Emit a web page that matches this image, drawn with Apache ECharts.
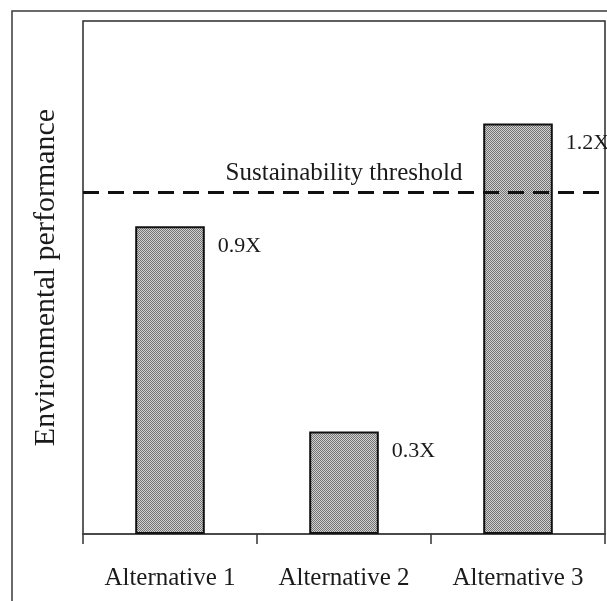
<!DOCTYPE html>
<html>
<head>
<meta charset="utf-8">
<script src="https://cdn.jsdelivr.net/npm/echarts@6/dist/echarts.min.js"></script>
<style>
  html, body { margin: 0; padding: 0; background: #ffffff; }
  #chart { width: 607px; height: 601px; }
</style>
</head>
<body>
<div id="chart"></div>
<script>
// Environmental performance of three alternatives, relative to the threshold X
const categories = ['Alternative 1', 'Alternative 2', 'Alternative 3'];
const performance = [0.9, 0.3, 1.2];
const valueLabels = ['0.9X', '0.3X', '1.2X'];
const thresholdValue = 1.0;
const thresholdName = 'Sustainability threshold';
const axisName = 'Environmental performance';

const serif = 'Liberation Serif';
const ink = '#1a1a1a';

// fine stippled fill for the bars: a small checkered tile repeated
function stippleTile() {
  const c = document.createElement('canvas');
  c.width = 2;
  c.height = 2;
  const g = c.getContext('2d');
  g.fillStyle = '#d2d2d2';
  g.fillRect(0, 0, 2, 2);
  g.fillStyle = '#737373';
  g.fillRect(0, 0, 1, 1);
  g.fillRect(1, 1, 1, 1);
  return c;
}

const chart = echarts.init(document.getElementById('chart'), null, { renderer: 'canvas' });

chart.setOption({
  backgroundColor: '#ffffff',
  animation: false,
  graphic: [
    {
      // outer frame around the figure, running off the right and bottom edges
      type: 'rect',
      silent: true,
      shape: { x: 12, y: 11, width: 700, height: 700 },
      style: { fill: 'none', stroke: '#3a3a3a', lineWidth: 1.5 }
    }
  ],
  grid: {
    left: 83,
    right: 2,
    top: 21,
    bottom: 67,
    show: true,
    borderColor: '#2a2a2a',
    borderWidth: 1.5,
    backgroundColor: 'transparent'
  },
  xAxis: {
    type: 'category',
    data: categories,
    boundaryGap: true,
    axisLine: { show: true, lineStyle: { color: '#444', width: 1.5 } },
    axisTick: { show: true, alignWithLabel: false, length: 10, lineStyle: { color: '#333', width: 1.5 } },
    axisLabel: { color: ink, fontFamily: serif, fontSize: 25, margin: 32 },
    splitLine: { show: false }
  },
  yAxis: {
    type: 'value',
    min: 0,
    max: 1.5,
    name: axisName,
    nameLocation: 'middle',
    nameGap: 22,
    nameTextStyle: { color: ink, fontFamily: serif, fontSize: 30 },
    axisLine: { show: false },
    axisTick: { show: false },
    axisLabel: { show: false },
    splitLine: { show: false }
  },
  series: [
    {
      type: 'bar',
      data: performance,
      barWidth: '40%',
      itemStyle: {
        color: { image: stippleTile(), repeat: 'repeat' },
        borderColor: '#111',
        borderWidth: 2
      },
      label: {
        show: true,
        position: ['100%', 0],
        align: 'left',
        verticalAlign: 'middle',
        offset: [13, 20],
        color: ink,
        fontFamily: serif,
        fontSize: 22,
        formatter: (p) => valueLabels[p.dataIndex]
      },
      markLine: {
        silent: true,
        symbol: 'none',
        data: [{ yAxis: thresholdValue }],
        lineStyle: { color: '#111', width: 3, type: [16, 9] },
        label: {
          show: true,
          position: 'middle',
          distance: 6,
          formatter: thresholdName,
          color: ink,
          fontFamily: serif,
          fontSize: 25
        }
      }
    }
  ]
});
</script>
</body>
</html>
